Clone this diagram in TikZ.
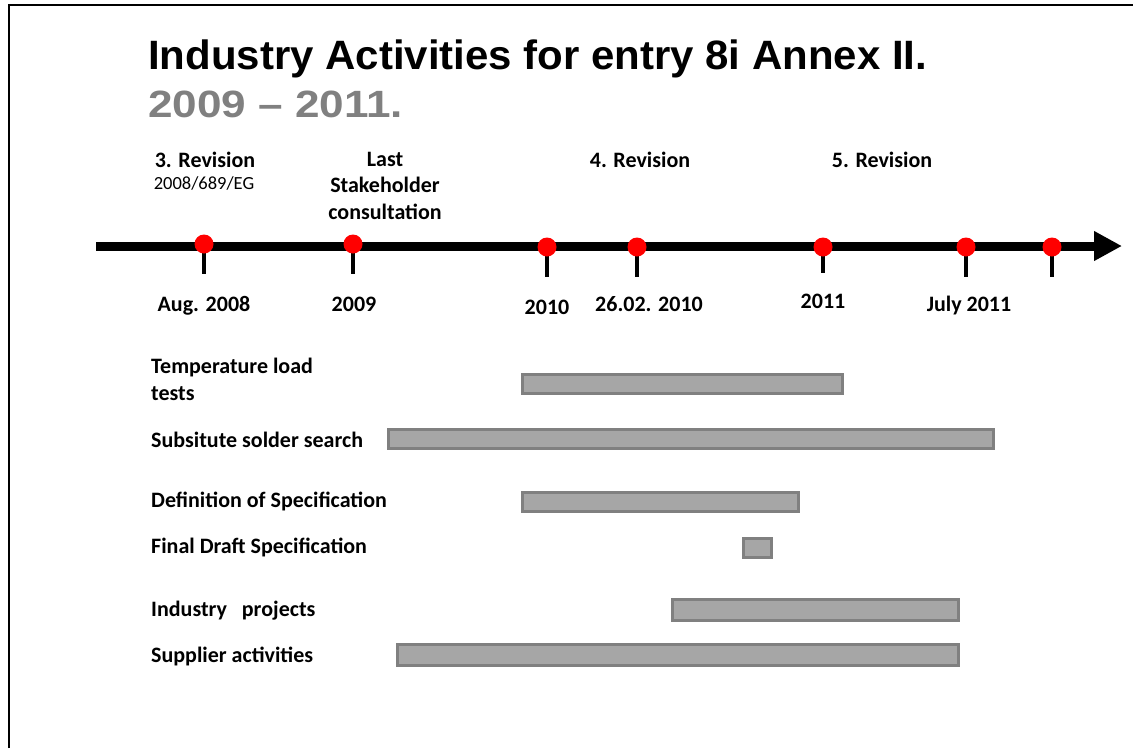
\documentclass[tikz,border=0pt]{standalone}
\usepackage{fontspec}
\usepackage{graphicx}
\setmainfont{Carlito}
\newfontfamily\titlefont{Liberation Sans}
\usetikzlibrary{arrows.meta}
\definecolor{barfill}{RGB}{166,166,166}
\definecolor{barline}{RGB}{128,128,128}
\definecolor{titlegray}{RGB}{128,128,128}
\definecolor{dotred}{RGB}{255,0,0}
\tikzset{
  lbl/.style={inner sep=0pt, font=\fontsize{22}{26.5}\selectfont\bfseries},
  toplbl/.style={lbl, anchor=base, align=center},
  sublbl/.style={inner sep=0pt, anchor=base, font=\fontsize{18.5}{22}\selectfont},
  datelbl/.style={lbl, anchor=base},
  rowlbl/.style={lbl, anchor=base west, align=left},
  bar/.style={draw=barline, fill=barfill, line width=2.5pt, inner sep=0pt, anchor=north west, rectangle},
  dotnode/.style={circle, fill=dotred, draw=none, minimum size=19pt, inner sep=0pt},
  tickline/.style={line width=3.5pt},
  axisline/.style={line width=9pt, -{Triangle[length=28pt,width=28pt]}},
}
\begin{document}
\begin{tikzpicture}[x=1pt,y=-1pt]
\useasboundingbox (0,0) rectangle (1133,748);
% frame
\coordinate (f0) at (9,748);
\coordinate (f1) at (9,5);
\coordinate (f2) at (1133,5);
\draw[line width=2pt] (f0) -- (f1) -- (f2);
% title
\node[inner sep=0pt, anchor=base west] (title) at (148,69.5)
  {\resizebox{779pt}{\height}{\titlefont\bfseries\fontsize{41}{47}\selectfont Industry Activities for entry 8i Annex II.}};
\node[inner sep=0pt, anchor=base west, text=titlegray] (years) at (148,117.5)
  {\resizebox{255pt}{\height}{\titlefont\bfseries\fontsize{38}{45}\selectfont 2009 – 2011.}};
% axis
\coordinate (a0) at (96,246);
\coordinate (a1) at (1122,246);
\draw[axisline] (a0) -- (a1);
% ticks and dots
\coordinate (p1) at (204,244);  \coordinate (t1) at (204,274);
\coordinate (p2) at (353,244);  \coordinate (t2) at (353,274);
\coordinate (p3) at (547,247);  \coordinate (t3) at (547,277);
\coordinate (p4) at (637,247);  \coordinate (t4) at (637,277);
\coordinate (p5) at (823,247);  \coordinate (t5) at (823,273);
\coordinate (p6) at (966,247);  \coordinate (t6) at (966,277);
\coordinate (p7) at (1052,247); \coordinate (t7) at (1052,277);
\foreach \i in {1,...,7} {\draw[tickline] (p\i) -- (t\i);}
\foreach \i in {1,...,7} {\node[dotnode] (d\i) at (p\i) {};}
% top labels
\node[toplbl] (rev3) at (205,167) {3. Revision};
\node[sublbl] (rev3sub) at (204,189) {2008/689/EG};
\node[toplbl] (last) at (385,219) {Last\\Stakeholder\\consultation};
\node[toplbl] (rev4) at (640,167) {4. Revision};
\node[toplbl] (rev5) at (882,167) {5. Revision};
% date labels
\node[datelbl] (l1) at (204,311) {Aug. 2008};
\node[datelbl] (l2) at (354,311) {2009};
\node[datelbl] (l3) at (547,314) {2010};
\node[datelbl] (l4) at (649,311) {26.02. 2010};
\node[datelbl] (l5) at (823,308) {2011};
\node[datelbl] (l6) at (969,311) {July 2011};
% row labels
\node[rowlbl] (r1) at (151,400) {Temperature load\\tests};
\node[rowlbl] (r2) at (151,447) {Subsitute solder search};
\node[rowlbl] (r3) at (151,507) {Definition of Specification};
\node[rowlbl] (r4) at (151,553) {Final Draft Specification};
\node[rowlbl] (r5) at (151,616) {Industry\ \ \ projects};
\node[rowlbl] (r6) at (151,662) {Supplier activities};
% bars
\node[bar, minimum width=320pt, minimum height=19pt] (b1) at (521,373) {};
\node[bar, minimum width=605pt, minimum height=19pt] (b2) at (387,428) {};
\node[bar, minimum width=276pt, minimum height=19pt] (b3) at (521,491) {};
\node[bar, minimum width=28pt,  minimum height=19pt] (b4) at (742,537) {};
\node[bar, minimum width=286pt, minimum height=21pt] (b5) at (671,598) {};
\node[bar, minimum width=561pt, minimum height=21pt] (b6) at (396,643) {};
\end{tikzpicture}
\end{document}
